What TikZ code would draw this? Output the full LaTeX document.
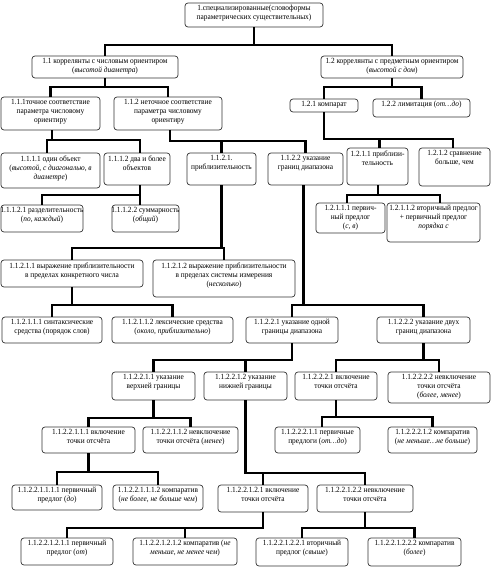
\documentclass[tikz,border=0pt]{standalone}
\usepackage{fontspec}
\setmainfont[FakeStretch=0.93]{Liberation Serif}
\tikzset{
  box/.style={draw=black!80, line width=0.7pt, rounded corners=3pt, inner sep=0pt, fill=white},
  txt/.style={align=center, inner sep=1.5pt, font=\fontsize{7.9}{9.1}\selectfont},
  conn/.style={line width=2.2pt, black}
}
\newcommand{\mybox}[6]{%
  \pgfmathsetmacro{\bw}{#4-#2}\pgfmathsetmacro{\bh}{#5-#3}%
  \pgfmathsetmacro{\bcx}{(#2+#4)/2}\pgfmathsetmacro{\bcy}{(#3+#5)/2}%
  \node[box, minimum width=\bw pt, minimum height=\bh pt] (#1) at (\bcx,\bcy) {};
  \node[txt, anchor=north] (#1t) at ([yshift=-1pt]#1.north) {#6};
}
\begin{document}
\begin{tikzpicture}[x=1pt,y=-1pt]
\useasboundingbox (0,0) rectangle (493,585);
% ---------- boxes ----------
\mybox{T}{185}{3}{323}{27}{1.специализированные(словоформы\\параметрических существительных)}
\mybox{A}{32}{56}{178}{78}{1.1 коррелянты с числовым ориентиром\\(\textit{высотой диаметра})}
\mybox{B}{321}{56}{463}{78}{1.2 коррелянты с предметным ориентиром\\(\textit{высотой с дом})}
\mybox{Aa}{1}{97}{100}{130}{1.1.1точное соответствие\\параметра числовому\\ориентиру}
\mybox{Ab}{114}{97}{222}{130}{1.1.2 неточное соответствие\\параметра числовому\\ориентиру}
\mybox{Ba}{290}{99}{358}{112}{1.2.1 компарат}
\mybox{Bb}{373}{99}{470}{117}{1.2.2 лимитация (\textit{от…до})}
\mybox{Aaa}{1}{153}{100}{188}{1.1.1.1 один объект\\(\textit{высотой, с диагональю, в}\\\textit{диаметре})}
\mybox{Aab}{104}{153}{170}{185}{1.1.1.2 два и более\\объектов}
\mybox{Aba}{187}{153}{256}{185}{1.1.2.1.\\приблизительность}
\mybox{Abb}{268}{153}{343}{185}{1.1.2.2 указание\\границ диапазона}
\mybox{Baa}{347}{148}{408}{185}{1.2.1.1 приблизи-\\тельность}
\mybox{Bab}{419}{148}{490}{186}{1.2.1.2 сравнение\\больше, чем}
\mybox{Aaba}{1}{205}{83}{232}{1.1.1.2.1 разделительность\\(\textit{по, каждый})}
\mybox{Aabb}{112}{205}{179}{232}{1.1.1.2.2 суммарность\\(\textit{общий})}
\mybox{Baaa}{316}{203}{385}{233}{1.2.1.1.1 первич-\\ный предлог\\(\textit{с, в})}
\mybox{Baab}{387}{203}{480}{242}{1.2.1.1.2 вторичный предлог\\+ первичный предлог\\\textit{порядка с}}
\mybox{Abaa}{1}{260}{143}{287}{1.1.2.1.1 выражение приблизительности\\в пределах конкретного числа}
\mybox{Abab}{153}{260}{295}{297}{1.1.2.1.2 выражение приблизительности\\в пределах системы измерения\\(\textit{несколько})}
\mybox{Abaaa}{2}{317}{102}{343}{1.1.2.1.1.1 синтаксические\\средства (порядок слов)}
\mybox{Abaab}{112}{317}{233}{343}{1.1.2.1.1.2 лексические средства\\(\textit{около, приблизительно})}
\mybox{Abba}{246}{317}{338}{343}{1.1.2.2.1 указание одной\\границы диапазона}
\mybox{Abbb}{377}{317}{470}{343}{1.1.2.2.2 указание двух\\границ диапазона}
\mybox{Abbaa}{112}{372}{195}{400}{1.1.2.2.1.1 указание\\верхней границы}
\mybox{Abbab}{204}{372}{287}{400}{1.1.2.2.1.2 указание\\нижней границы}
\mybox{Abbba}{295}{372}{377}{400}{1.1.2.2.2.1 включение\\точки отсчёта}
\mybox{Abbbb}{388}{372}{490}{403}{1.1.2.2.2.2 невключение\\точки отсчёта\\(\textit{более, менее})}
\mybox{Abbaaa}{42}{427}{135}{453}{1.1.2.2.1.1.1 включение\\точки отсчёта}
\mybox{Abbaab}{143}{427}{238}{453}{1.1.2.2.1.1.2 невключение\\точки отсчёта (\textit{менее})}
\mybox{Abbbaa}{275}{427}{360}{453}{1.1.2.2.2.1.1 первичные\\предлоги (\textit{от…до})}
\mybox{Abbbab}{388}{427}{477}{453}{1.1.2.2.2.1.2 компаратив\\(\textit{не меньше…не больше})}
\mybox{Abbaaaa}{12}{485}{102}{510}{1.1.2.2.1.1.1.1 первичный\\предлог (\textit{до})}
\mybox{Abbaaab}{113}{485}{203}{510}{1.1.2.2.1.1.1.2 компаратив\\(\textit{не более, не больше чем})}
\mybox{Abbaba}{218}{485}{308}{512}{1.1.2.2.1.2.1 включение\\точки отсчёта}
\mybox{Abbabb}{317}{485}{413}{512}{1.1.2.2.1.2.2 невключение\\точки отсчёта}
\mybox{Abbabaa}{21}{538}{113}{565}{1.1.2.2.1.2.1.1 первичный\\предлог (\textit{от})}
\mybox{Abbabab}{133}{538}{237}{565}{1.1.2.2.1.2.1.2 компаратив (\textit{не}\\\textit{меньше, не менее чем})}
\mybox{Abbabba}{256}{538}{348}{566}{1.1.2.2.1.2.2.1 вторичный\\предлог (\textit{свыше})}
\mybox{Abbabbb}{368}{538}{461}{566}{1.1.2.2.1.2.2.2 компаратив\\(\textit{более})}
% ---------- connectors ----------
\coordinate (bT) at (0,45);
\draw[conn] (T.south) -- (T.south |- bT) -| (A.north);
\draw[conn] (T.south |- bT) -| (B.north);
\coordinate (bA) at (0,87);
\draw[conn] (A.south) -- (A.south |- bA) -| (Aa.north);
\draw[conn] (A.south |- bA) -| (Ab.north);
\coordinate (bB) at (0,87);
\draw[conn] (B.south) -- (B.south |- bB) -| (Ba.north);
\draw[conn] (B.south |- bB) -| (Bb.north);
\coordinate (bAa) at (0,140);
\draw[conn] ([xshift=1.5pt]Aa.south) -- ([xshift=1.5pt]Aa.south |- bAa) -| ([xshift=-3.5pt]Aaa.north);
\draw[conn] ([xshift=1.5pt]Aa.south |- bAa) -| ([xshift=3pt]Aab.north);
\coordinate (bAb) at (0,141);
\draw[conn] ([xshift=2pt]Ab.south) -- ([xshift=2pt]Ab.south |- bAb) -| (Aba.north);
\draw[conn] ([xshift=2pt]Ab.south |- bAb) -| (Abb.north);
\coordinate (bBa) at (0,139);
\draw[conn] (Ba.south) -- (Ba.south |- bBa) -| ([xshift=2pt]Baa.north);
\draw[conn] (Ba.south |- bBa) -| ([xshift=-1.5pt]Bab.north);
\coordinate (bAab) at (0,195);
\draw[conn] ([xshift=3pt]Aab.south) -- ([xshift=3pt]Aab.south |- bAab) -| (Aaba.north);
\draw[conn] ([xshift=3pt]Aab.south |- bAab) -| ([xshift=-5.5pt]Aabb.north);
\coordinate (bBaa) at (0,195);
\draw[conn] ([xshift=0.5pt]Baa.south) -- ([xshift=0.5pt]Baa.south |- bBaa) -| ([xshift=-3.5pt]Baaa.north);
\draw[conn] ([xshift=0.5pt]Baa.south |- bBaa) -| ([xshift=6.5pt]Baab.north);
\coordinate (bAba) at (0,248);
\draw[conn] (Aba.south) -- (Aba.south |- bAba) -| (Abaa.north);
\draw[conn] (Aba.south |- bAba) -| (Abab.north);
\coordinate (bAbaa) at (0,305);
\draw[conn] (Abaa.south) -- (Abaa.south |- bAbaa) -| (Abaaa.north);
\draw[conn] (Abaa.south |- bAbaa) -| (Abaab.north);
\coordinate (bAbb) at (0,305);
\draw[conn] ([xshift=-2pt]Abb.south) -- ([xshift=-2pt]Abb.south |- bAbb) -| (Abba.north);
\draw[conn] ([xshift=-2pt]Abb.south |- bAbb) -| (Abbb.north);
\coordinate (bAbba) at (0,360);
\draw[conn] (Abba.south) -- (Abba.south |- bAbba) -| (Abbaa.north);
\draw[conn] (Abba.south |- bAbba) -| (Abbab.north);
\coordinate (bAbbb) at (0,360);
\draw[conn] (Abbb.south) -- (Abbb.south |- bAbbb) -| (Abbba.north);
\draw[conn] (Abbb.south |- bAbbb) -| (Abbbb.north);
\coordinate (bAbbaa) at (0,418);
\draw[conn] (Abbaa.south) -- (Abbaa.south |- bAbbaa) -| (Abbaaa.north);
\draw[conn] (Abbaa.south |- bAbbaa) -| (Abbaab.north);
\coordinate (bAbbab) at (0,473);
\draw[conn] (Abbab.south) -- (Abbab.south |- bAbbab) -| (Abbaba.north);
\draw[conn] (Abbab.south |- bAbbab) -| (Abbabb.north);
\coordinate (bAbbba) at (0,417);
\draw[conn] (Abbba.south) -- (Abbba.south |- bAbbba) -| ([xshift=4.5pt]Abbbaa.north);
\draw[conn] (Abbba.south |- bAbbba) -| (Abbbab.north);
\coordinate (bAbbaaa) at (0,472);
\draw[conn] (Abbaaa.south) -- (Abbaaa.south |- bAbbaaa) -| (Abbaaaa.north);
\draw[conn] (Abbaaa.south |- bAbbaaa) -| (Abbaaab.north);
\coordinate (bAbbaba) at (0,528);
\draw[conn] (Abbaba.south) -- (Abbaba.south |- bAbbaba) -| (Abbabaa.north);
\draw[conn] (Abbaba.south |- bAbbaba) -| (Abbabab.north);
\coordinate (bAbbabb) at (0,528);
\draw[conn] (Abbabb.south) -- (Abbabb.south |- bAbbabb) -| (Abbabba.north);
\draw[conn] (Abbabb.south |- bAbbabb) -| (Abbabbb.north);
\end{tikzpicture}
\end{document}
